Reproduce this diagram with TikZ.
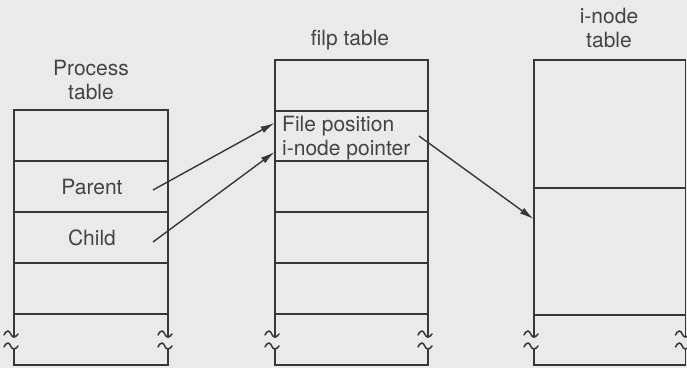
\documentclass[tikz,border=0pt]{standalone}
\usepackage{fontspec}
\setmainfont{TeX Gyre Heros}
\usetikzlibrary{arrows.meta}
\definecolor{bg}{RGB}{234,234,234}
\definecolor{ln}{RGB}{55,55,55}
\definecolor{tx}{RGB}{68,68,68}
\newcommand\tblside[3]{%
  \draw[tbl] (#1,#2) -- (#1,337);
  \draw[sq] (#1-10,335) .. controls (#1-9,333) and (#1-8,331) .. (#1-6,331) .. controls (#1-3.5,331) and (#1-3,337.5) .. (#1,337) .. controls (#1+2,337) and (#1+3,335) .. (#1+4,334);
  \draw[sq] (#1-10,347) .. controls (#1-9,345) and (#1-8,343) .. (#1-6,343) .. controls (#1-3.5,343) and (#1-3,349.5) .. (#1,349) .. controls (#1+2,349) and (#1+3,347) .. (#1+4,346);
  \draw[tbl] (#1,349) -- (#1,#3);
}
\begin{document}
\begin{tikzpicture}[x=1pt,y=-1pt,
  tbl/.style={draw=ln,line width=1.7pt,line cap=rect},
  sq/.style={draw=ln,line width=1.5pt,line cap=round},
  lbl/.style={text=tx,font=\fontsize{21}{24}\selectfont,inner sep=0pt,align=center},
  arr/.style={draw=ln,line width=1.4pt,-{Latex[length=14pt,width=7pt]}}]
\fill[bg] (0,0) rectangle (687,368);
\useasboundingbox (0,0) rectangle (687,368);
% Process table
\foreach \y in {110,161,212,263,314,365} \draw[tbl] (14,\y) -- (168,\y);
\tblside{14}{110}{365}
\tblside{168}{110}{365}
% filp table
\foreach \y in {60,111,161,212,263,314,365} \draw[tbl] (275,\y) -- (428,\y);
\tblside{275}{60}{365}
\tblside{428}{60}{365}
% i-node table
\foreach \y in {60,188,315,365} \draw[tbl] (534,\y) -- (685.5,\y);
\tblside{534}{60}{365}
\tblside{685.5}{60}{365}
% labels
\node[lbl] (ptlabel) at (91,80) {Process\\table};
\node[lbl] (fplabel) at (350,40) {filp table};
\node[lbl] (itlabel) at (609,28) {i-node\\table};
\node[lbl] (parent) at (92,187) {Parent};
\node[lbl] (child) at (92,238) {Child};
\node[lbl,anchor=base west] (fpos) at (282,131.5) {File position};
\node[lbl,anchor=base west] (fptr) at (282,155.5) {i-node pointer};
% connectors
\coordinate (pa) at (153,190);
\coordinate (ch) at (153,242);
\coordinate (fpin) at (274.5,123);
\coordinate (ptrin) at (274.5,152);
\coordinate (ptrout) at (419,136);
\coordinate (inode) at (533.5,219);
\draw[arr] (pa) -- (fpin);
\draw[arr] (ch) -- (ptrin);
\draw[arr] (ptrout) -- (inode);
\end{tikzpicture}
\end{document}
